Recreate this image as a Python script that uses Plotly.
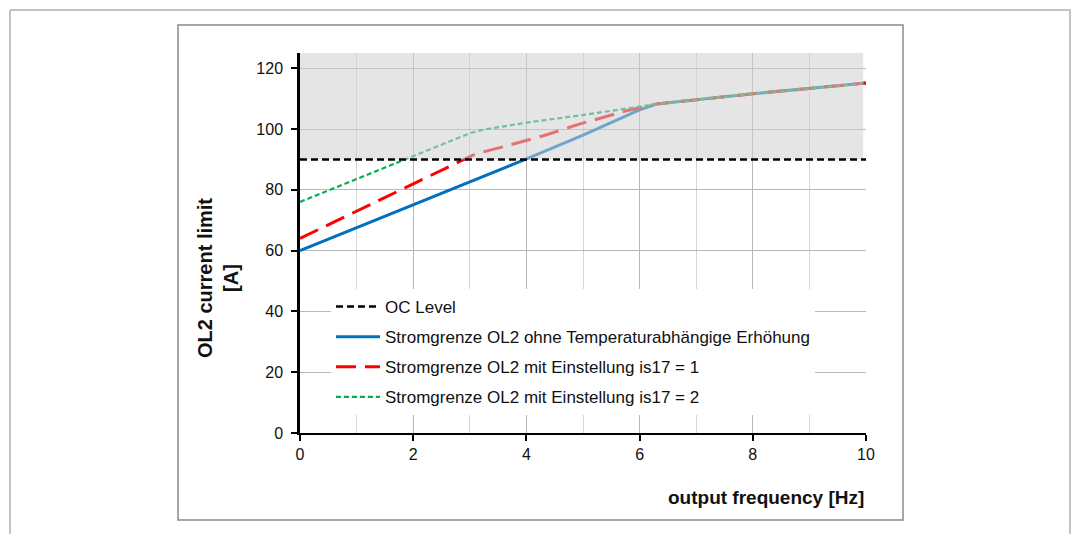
import plotly.graph_objects as go

# ---- data ----
freq_blue = [0, 1, 2, 3, 3.98, 4.95, 6.0, 6.3, 8.0, 10]
ol2_blue = [60, 67.5, 75, 82.5, 90, 97.6, 106.3, 108.2, 111.6, 115.1]

freq_red = [0, 1, 2, 2.88, 3.1, 3.7, 4.3, 4.95, 5.77, 6.3, 8.0, 10]
ol2_red = [64, 73, 82, 90, 91.8, 94.7, 97.8, 101.7, 106, 108.2, 111.6, 115.1]

freq_green = [0, 1, 2, 2.5, 3.0, 3.25, 4.0, 5.0, 5.95, 6.3, 8.0, 10]
ol2_green = [76, 83.5, 91, 95, 98.6, 99.8, 102.1, 104.6, 107.2, 108.2, 111.6, 115.1]

oc_freq = [0, 10]
oc_level = [90, 90]

x_ticks = [0, 2, 4, 6, 8, 10]
y_ticks = [0, 20, 40, 60, 80, 100, 120]
X_RANGE = [0, 10]
Y_RANGE = [0, 125]
SHADE_X = [0, 9.95, 9.95, 0, 0]
SHADE_Y = [90, 90, 125, 125, 90]

names = ["OC Level",
         "Stromgrenze OL2 ohne Temperaturabhängige Erhöhung",
         "Stromgrenze OL2 mit Einstellung is17 = 1",
         "Stromgrenze OL2 mit Einstellung is17 = 2"]

fig = go.Figure()

fig.add_trace(go.Scatter(x=freq_blue, y=ol2_blue, mode="lines", name=names[1],
                         line=dict(color="#0070c0", width=3), legendrank=2, legendgroup="b"))
fig.add_trace(go.Scatter(x=freq_red, y=ol2_red, mode="lines", name=names[2],
                         line=dict(color="#ff0000", width=3, dash="20px,9px"), legendrank=3, legendgroup="r"))
fig.add_trace(go.Scatter(x=freq_green, y=ol2_green, mode="lines", name=names[3],
                         line=dict(color="#00b050", width=2.2, dash="5px,3px"), legendrank=4, legendgroup="g"))
# translucent shaded band above OC level (fades lines beneath)
fig.add_trace(go.Scatter(x=SHADE_X, y=SHADE_Y, mode="lines", fill="toself",
                         fillcolor="rgba(208,208,208,0.55)", line=dict(width=0),
                         hoverinfo="skip", showlegend=False))
fig.add_trace(go.Scatter(x=oc_freq, y=oc_level, mode="lines", name=names[0],
                         line=dict(color="#000000", width=2.5, dash="7px,4px"), legendrank=1, legendgroup="k"))

# pixel -> paper helpers (plot area: x 300..866, y 53..433)
L, R, T, B = 300, 866, 53, 433
def px(x):
    return (x - L) / (R - L)
def py(y):
    return (B - y) / (B - T)

shapes = [
    # outer light frame
    dict(type="line", xref="paper", yref="paper", x0=px(10), x1=px(1071), y0=py(10), y1=py(10),
         line=dict(color="#c4c4c4", width=2)),
    dict(type="line", xref="paper", yref="paper", x0=px(10), x1=px(10), y0=py(10), y1=py(540),
         line=dict(color="#c4c4c4", width=2)),
    dict(type="line", xref="paper", yref="paper", x0=px(1070), x1=px(1070), y0=py(10), y1=py(540),
         line=dict(color="#c4c4c4", width=2)),
    # inner chart box
    dict(type="rect", xref="paper", yref="paper", x0=px(178), x1=px(903), y0=py(25), y1=py(520),
         line=dict(color="#8a8a8a", width=1.5), fillcolor="rgba(0,0,0,0)", layer="below"),
]

fig.update_layout(
    width=1076, height=534,
    margin=dict(l=L, r=1076 - R, t=T, b=534 - B),
    paper_bgcolor="white", plot_bgcolor="white",
    font=dict(family="Arial, Liberation Sans, sans-serif", color="#111111", size=16),
    shapes=shapes,
    showlegend=True,
    legend=dict(x=px(331), y=py(289), xanchor="left", yanchor="top",
                bgcolor="white", borderwidth=0, tracegroupgap=5,
                font=dict(size=17, color="#111111"), itemwidth=44),
    xaxis=dict(range=X_RANGE, tickvals=x_ticks, showgrid=True, gridcolor="#b8b8b8", gridwidth=1,
               minor=dict(dtick=1, showgrid=True, gridcolor="#d6d6d6", gridwidth=1),
               showline=True, linecolor="black", linewidth=1.5,
               ticks="outside", ticklen=6, tickcolor="black", tickwidth=1.5,
               tickfont=dict(size=16), zeroline=False, fixedrange=True),
    yaxis=dict(range=Y_RANGE, tickvals=y_ticks, showgrid=True, gridcolor="#b8b8b8", gridwidth=1,
               showline=True, linecolor="black", linewidth=2.5,
               ticks="outside", ticklen=6, tickcolor="black", tickwidth=2,
               ticklabelstandoff=5,
               tickfont=dict(size=16), zeroline=False, fixedrange=True),
    annotations=[
        dict(text="<b>OL2 current limit<br>[A]</b>", xref="paper", yref="paper",
             x=px(218), y=py(278), textangle=-90, showarrow=False,
             font=dict(size=20, color="#111111"), xanchor="center", yanchor="middle"),
        dict(text="<b>output frequency [Hz]</b>", xref="paper", yref="paper",
             x=1, y=py(497), showarrow=False, xanchor="right", yanchor="middle",
             font=dict(size=19, color="#111111")),
    ],
)

fig.write_html("out.html")
